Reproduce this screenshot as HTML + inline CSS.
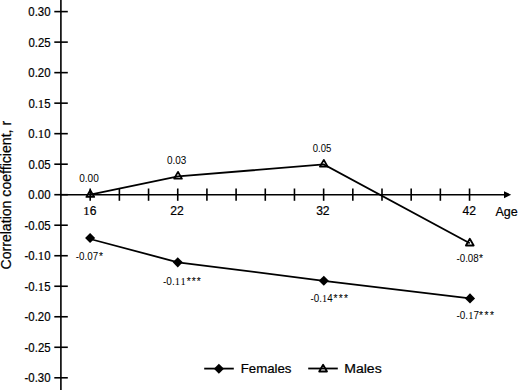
<!DOCTYPE html><html><head><meta charset="utf-8"><style>html,body{margin:0;padding:0;background:#fff;width:518px;height:390px;overflow:hidden}svg{display:block}text{font-family:"Liberation Sans",sans-serif;fill:#000;stroke:#000;stroke-width:0.22px}</style></head><body>
<svg width="518" height="390" viewBox="0 0 518 390">
<line x1="60.9" y1="0" x2="60.9" y2="390" stroke="#000" stroke-width="1.6"/>
<line x1="54.3" y1="11.61" x2="67.8" y2="11.61" stroke="#000" stroke-width="1.6"/>
<text transform="translate(28.34,16.01) scale(0.935,1)" font-size="12.2">0.30</text>
<line x1="54.3" y1="42.12" x2="67.8" y2="42.12" stroke="#000" stroke-width="1.6"/>
<text transform="translate(28.38,46.52) scale(0.935,1)" font-size="12.2">0.25</text>
<line x1="54.3" y1="72.64" x2="67.8" y2="72.64" stroke="#000" stroke-width="1.6"/>
<text transform="translate(28.34,77.04) scale(0.935,1)" font-size="12.2">0.20</text>
<line x1="54.3" y1="103.16" x2="67.8" y2="103.16" stroke="#000" stroke-width="1.6"/>
<text transform="translate(28.38,107.56) scale(0.935,1)" font-size="12.2">0.<tspan font-family="Liberation Serif" font-size="12.69" dx="0.15">1</tspan><tspan dx="0.29">5</tspan></text>
<line x1="54.3" y1="133.67" x2="67.8" y2="133.67" stroke="#000" stroke-width="1.6"/>
<text transform="translate(28.34,138.07) scale(0.935,1)" font-size="12.2">0.<tspan font-family="Liberation Serif" font-size="12.69" dx="0.15">1</tspan><tspan dx="0.29">0</tspan></text>
<line x1="54.3" y1="164.19" x2="67.8" y2="164.19" stroke="#000" stroke-width="1.6"/>
<text transform="translate(28.38,168.59) scale(0.935,1)" font-size="12.2">0.05</text>
<line x1="54.3" y1="194.70" x2="67.8" y2="194.70" stroke="#000" stroke-width="1.6"/>
<text transform="translate(28.34,199.10) scale(0.935,1)" font-size="12.2">0.00</text>
<line x1="54.3" y1="225.22" x2="67.8" y2="225.22" stroke="#000" stroke-width="1.6"/>
<text transform="translate(24.58,229.62) scale(0.935,1)" font-size="12.2">-0.05</text>
<line x1="54.3" y1="255.73" x2="67.8" y2="255.73" stroke="#000" stroke-width="1.6"/>
<text transform="translate(24.55,260.13) scale(0.935,1)" font-size="12.2">-0.<tspan font-family="Liberation Serif" font-size="12.69" dx="0.15">1</tspan><tspan dx="0.29">0</tspan></text>
<line x1="54.3" y1="286.25" x2="67.8" y2="286.25" stroke="#000" stroke-width="1.6"/>
<text transform="translate(24.58,290.64) scale(0.935,1)" font-size="12.2">-0.<tspan font-family="Liberation Serif" font-size="12.69" dx="0.15">1</tspan><tspan dx="0.29">5</tspan></text>
<line x1="54.3" y1="316.76" x2="67.8" y2="316.76" stroke="#000" stroke-width="1.6"/>
<text transform="translate(24.55,321.16) scale(0.935,1)" font-size="12.2">-0.20</text>
<line x1="54.3" y1="347.27" x2="67.8" y2="347.27" stroke="#000" stroke-width="1.6"/>
<text transform="translate(24.58,351.67) scale(0.935,1)" font-size="12.2">-0.25</text>
<line x1="54.3" y1="377.79" x2="67.8" y2="377.79" stroke="#000" stroke-width="1.6"/>
<text transform="translate(24.55,382.19) scale(0.935,1)" font-size="12.2">-0.30</text>
<line x1="60.9" y1="194.7" x2="505" y2="194.7" stroke="#000" stroke-width="1.6"/>
<path d="M504 191.2 L511.2 194.7 L504 198.2 Z" fill="#000"/>
<line x1="90.20" y1="188.5" x2="90.20" y2="200.8" stroke="#000" stroke-width="1.6"/>
<line x1="119.38" y1="188.5" x2="119.38" y2="200.8" stroke="#000" stroke-width="1.6"/>
<line x1="148.56" y1="188.5" x2="148.56" y2="200.8" stroke="#000" stroke-width="1.6"/>
<line x1="177.74" y1="188.5" x2="177.74" y2="200.8" stroke="#000" stroke-width="1.6"/>
<line x1="206.92" y1="188.5" x2="206.92" y2="200.8" stroke="#000" stroke-width="1.6"/>
<line x1="236.10" y1="188.5" x2="236.10" y2="200.8" stroke="#000" stroke-width="1.6"/>
<line x1="265.28" y1="188.5" x2="265.28" y2="200.8" stroke="#000" stroke-width="1.6"/>
<line x1="294.46" y1="188.5" x2="294.46" y2="200.8" stroke="#000" stroke-width="1.6"/>
<line x1="323.64" y1="188.5" x2="323.64" y2="200.8" stroke="#000" stroke-width="1.6"/>
<line x1="352.82" y1="188.5" x2="352.82" y2="200.8" stroke="#000" stroke-width="1.6"/>
<line x1="382.00" y1="188.5" x2="382.00" y2="200.8" stroke="#000" stroke-width="1.6"/>
<line x1="411.18" y1="188.5" x2="411.18" y2="200.8" stroke="#000" stroke-width="1.6"/>
<line x1="440.36" y1="188.5" x2="440.36" y2="200.8" stroke="#000" stroke-width="1.6"/>
<line x1="469.54" y1="188.5" x2="469.54" y2="200.8" stroke="#000" stroke-width="1.6"/>
<text transform="translate(83.13,214.80) scale(1.000,1)" font-size="12.1"><tspan font-family="Liberation Serif" font-size="12.58" dx="0.15">1</tspan><tspan dx="0.29">6</tspan></text>
<text transform="translate(170.32,214.80) scale(1.000,1)" font-size="12.1">22</text>
<text transform="translate(316.14,214.80) scale(1.000,1)" font-size="12.1">32</text>
<text transform="translate(462.54,214.80) scale(1.000,1)" font-size="12.1">42</text>
<text transform="translate(495.38,215.50) scale(0.921,1)" font-size="13.6">Age</text>
<text transform="translate(10.6,269.5) rotate(-90)" font-size="14.1">Correlation coefficient, r</text>
<polyline points="90.3,194.7 178.0,176.4 323.8,164.4 469.8,243.3" fill="none" stroke="#000" stroke-width="1.8"/>
<path d="M90.30 190.20 L94.20 196.90 L86.40 196.90 Z" fill="none" stroke="#000" stroke-width="1.8" stroke-linejoin="round"/>
<path d="M178.00 171.90 L181.90 178.60 L174.10 178.60 Z" fill="none" stroke="#000" stroke-width="1.8" stroke-linejoin="round"/>
<path d="M323.80 159.90 L327.70 166.60 L319.90 166.60 Z" fill="none" stroke="#000" stroke-width="1.8" stroke-linejoin="round"/>
<path d="M469.80 238.80 L473.70 245.50 L465.90 245.50 Z" fill="none" stroke="#000" stroke-width="1.8" stroke-linejoin="round"/>
<polyline points="90.1,239.0 177.9,262.3 323.8,280.8 470.0,298.4" fill="none" stroke="#000" stroke-width="1.8"/>
<path d="M90.10 233.00 L95.15 238.05 L90.10 243.10 L85.05 238.05 Z" fill="#000"/>
<path d="M177.75 257.30 L182.80 262.35 L177.75 267.40 L172.70 262.35 Z" fill="#000"/>
<path d="M323.80 275.75 L328.85 280.80 L323.80 285.85 L318.75 280.80 Z" fill="#000"/>
<path d="M470.00 293.35 L475.05 298.40 L470.00 303.45 L464.95 298.40 Z" fill="#000"/>
<text transform="translate(79.21,181.80) scale(0.932,1)" font-size="10.8" style="stroke-width:0.02px">0.00</text>
<text transform="translate(166.91,163.90) scale(0.924,1)" font-size="10.8" style="stroke-width:0.02px">0.03</text>
<text transform="translate(312.73,151.80) scale(0.884,1)" font-size="10.8" style="stroke-width:0.02px">0.05</text>
<text transform="translate(456.47,262.30) scale(0.939,1)" font-size="10.4" style="stroke-width:0.02px">-0.08</text>
<text transform="translate(479.06,262.10) scale(1.000,1)" font-size="10.2" style="stroke-width:0.1px">*</text>
<text transform="translate(75.76,259.80) scale(0.946,1)" font-size="10.4" style="stroke-width:0.02px">-0.07</text>
<text transform="translate(98.96,259.60) scale(1.000,1)" font-size="10.2" style="stroke-width:0.1px">*</text>
<text transform="translate(162.95,284.70) scale(0.968,1)" font-size="10.4" style="stroke-width:0.02px">-0.<tspan font-family="Liberation Serif" font-size="10.82" dx="0.12">1</tspan><tspan font-family="Liberation Serif" font-size="10.82" dx="0.37">1</tspan></text>
<text transform="translate(186.64,284.50) scale(1.000,1)" font-size="10.2" style="stroke-width:0.1px">*</text>
<text transform="translate(191.71,284.50) scale(1.000,1)" font-size="10.2" style="stroke-width:0.1px">*</text>
<text transform="translate(196.79,284.50) scale(1.000,1)" font-size="10.2" style="stroke-width:0.1px">*</text>
<text transform="translate(310.46,302.00) scale(0.942,1)" font-size="10.4" style="stroke-width:0.02px">-0.<tspan font-family="Liberation Serif" font-size="10.82" dx="0.12">1</tspan><tspan dx="0.25">4</tspan></text>
<text transform="translate(333.54,301.80) scale(1.000,1)" font-size="10.2" style="stroke-width:0.1px">*</text>
<text transform="translate(338.71,301.80) scale(1.000,1)" font-size="10.2" style="stroke-width:0.1px">*</text>
<text transform="translate(343.89,301.80) scale(1.000,1)" font-size="10.2" style="stroke-width:0.1px">*</text>
<text transform="translate(456.46,319.00) scale(0.955,1)" font-size="10.4" style="stroke-width:0.02px">-0.<tspan font-family="Liberation Serif" font-size="10.82" dx="0.12">1</tspan><tspan dx="0.25">7</tspan></text>
<text transform="translate(478.94,318.80) scale(1.000,1)" font-size="10.2" style="stroke-width:0.1px">*</text>
<text transform="translate(484.41,318.80) scale(1.000,1)" font-size="10.2" style="stroke-width:0.1px">*</text>
<text transform="translate(489.89,318.80) scale(1.000,1)" font-size="10.2" style="stroke-width:0.1px">*</text>
<line x1="204.2" y1="368.6" x2="233.8" y2="368.6" stroke="#000" stroke-width="1.8"/>
<path d="M218.90 363.75 L223.95 368.80 L218.90 373.85 L213.85 368.80 Z" fill="#000"/>
<text transform="translate(240.71,372.70) scale(1.026,1)" font-size="12.9">Females</text>
<line x1="308.2" y1="368.5" x2="337.8" y2="368.5" stroke="#000" stroke-width="1.8"/>
<path d="M323.10 364.80 L327.00 371.50 L319.20 371.50 Z" fill="none" stroke="#000" stroke-width="1.8" stroke-linejoin="round"/>
<text transform="translate(344.25,372.70) scale(1.089,1)" font-size="12.9">Males</text>
</svg></body></html>
